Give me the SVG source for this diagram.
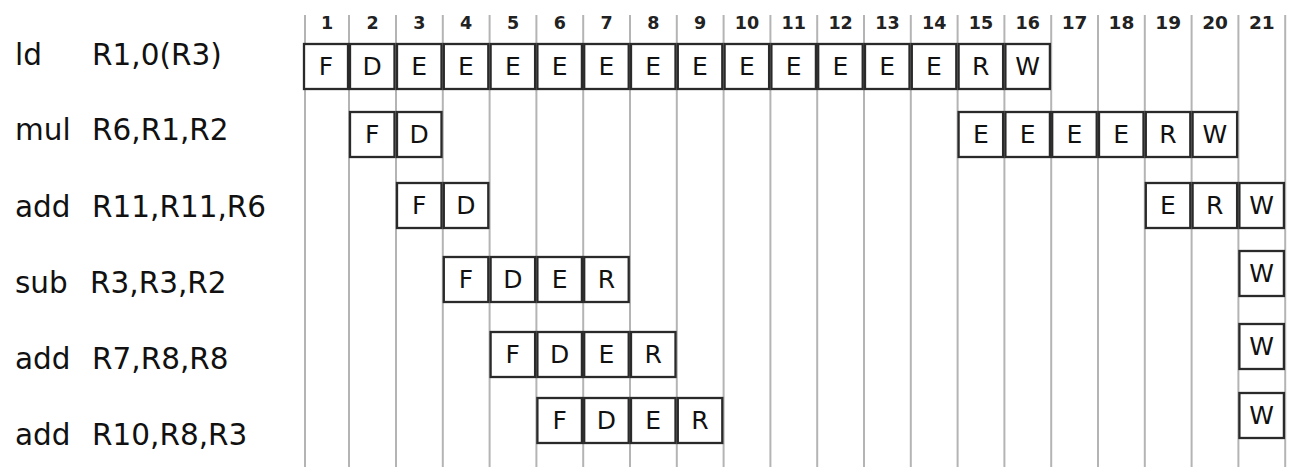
<svg xmlns="http://www.w3.org/2000/svg" width="1293" height="475" viewBox="0 0 1293 475">
<style>
.grid{stroke:#b4b4b4;stroke-width:2;fill:none}
.hdr{font-family:"DejaVu Sans",sans-serif;font-size:17.5px;font-weight:bold;fill:#222;text-anchor:middle}
.lbl{font-family:"DejaVu Sans",sans-serif;font-size:29.5px;fill:#111}
.box rect{fill:#fff;stroke:#2a2a2a;stroke-width:2.3}
.box text{font-family:"DejaVu Sans",sans-serif;font-size:25px;fill:#111;text-anchor:middle}
</style>
<rect width="1293" height="475" fill="#fff"/>
<g id="grid">
<line class="grid" x1="305" y1="15" x2="305" y2="467"/>
<line class="grid" x1="349" y1="15" x2="349" y2="467"/>
<line class="grid" x1="396" y1="15" x2="396" y2="467"/>
<line class="grid" x1="442.8" y1="15" x2="442.8" y2="467"/>
<line class="grid" x1="489.6" y1="15" x2="489.6" y2="467"/>
<line class="grid" x1="536.4" y1="15" x2="536.4" y2="467"/>
<line class="grid" x1="583.2" y1="15" x2="583.2" y2="467"/>
<line class="grid" x1="630" y1="15" x2="630" y2="467"/>
<line class="grid" x1="676.8" y1="15" x2="676.8" y2="467"/>
<line class="grid" x1="723.6" y1="15" x2="723.6" y2="467"/>
<line class="grid" x1="770.4" y1="15" x2="770.4" y2="467"/>
<line class="grid" x1="817.2" y1="15" x2="817.2" y2="467"/>
<line class="grid" x1="864" y1="15" x2="864" y2="467"/>
<line class="grid" x1="910.8" y1="15" x2="910.8" y2="467"/>
<line class="grid" x1="957.6" y1="15" x2="957.6" y2="467"/>
<line class="grid" x1="1004.4" y1="15" x2="1004.4" y2="467"/>
<line class="grid" x1="1051.2" y1="15" x2="1051.2" y2="467"/>
<line class="grid" x1="1098" y1="15" x2="1098" y2="467"/>
<line class="grid" x1="1144.8" y1="15" x2="1144.8" y2="467"/>
<line class="grid" x1="1191.6" y1="15" x2="1191.6" y2="467"/>
<line class="grid" x1="1238.4" y1="15" x2="1238.4" y2="467"/>
<line class="grid" x1="1285.2" y1="15" x2="1285.2" y2="467"/>
</g>
<g id="headers">
<text class="hdr" x="327" y="29">1</text>
<text class="hdr" x="372.5" y="29">2</text>
<text class="hdr" x="419.4" y="29">3</text>
<text class="hdr" x="466.2" y="29">4</text>
<text class="hdr" x="513" y="29">5</text>
<text class="hdr" x="559.8" y="29">6</text>
<text class="hdr" x="606.6" y="29">7</text>
<text class="hdr" x="653.4" y="29">8</text>
<text class="hdr" x="700.2" y="29">9</text>
<text class="hdr" x="747" y="29">10</text>
<text class="hdr" x="793.8" y="29">11</text>
<text class="hdr" x="840.6" y="29">12</text>
<text class="hdr" x="887.4" y="29">13</text>
<text class="hdr" x="934.2" y="29">14</text>
<text class="hdr" x="981" y="29">15</text>
<text class="hdr" x="1027.8" y="29">16</text>
<text class="hdr" x="1074.6" y="29" style="font-size:18.5px">17</text>
<text class="hdr" x="1121.4" y="29" style="font-size:18.5px">18</text>
<text class="hdr" x="1168.2" y="29" style="font-size:18.5px">19</text>
<text class="hdr" x="1215" y="29" style="font-size:18.5px">20</text>
<text class="hdr" x="1261.8" y="29" style="font-size:18.5px">21</text>
</g>
<g id="labels">
<text class="lbl" x="15" y="65">ld</text><text class="lbl" x="92" y="65">R1,0(R3)</text>
<text class="lbl" x="15" y="140">mul</text><text class="lbl" x="92" y="140">R6,R1,R2</text>
<text class="lbl" x="15" y="217">add</text><text class="lbl" x="92" y="217">R11,R11,R6</text>
<text class="lbl" x="15" y="293">sub</text><text class="lbl" x="90" y="293">R3,R3,R2</text>
<text class="lbl" x="15" y="369">add</text><text class="lbl" x="92" y="369">R7,R8,R8</text>
<text class="lbl" x="15" y="445">add</text><text class="lbl" x="92" y="445">R10,R8,R3</text>
</g>
<g id="row1-ld">
<g id="ld-c1" class="box"><rect x="304" y="44" width="44" height="45"/><text x="326" y="75">F</text></g>
<g id="ld-c2" class="box"><rect x="350" y="44" width="44.5" height="45"/><text x="372.2" y="75">D</text></g>
<g id="ld-c3" class="box"><rect x="397" y="44" width="44.5" height="45"/><text x="419.2" y="75">E</text></g>
<g id="ld-c4" class="box"><rect x="443.8" y="44" width="44.5" height="45"/><text x="466" y="75">E</text></g>
<g id="ld-c5" class="box"><rect x="490.6" y="44" width="44.5" height="45"/><text x="512.8" y="75">E</text></g>
<g id="ld-c6" class="box"><rect x="537.4" y="44" width="44.5" height="45"/><text x="559.6" y="75">E</text></g>
<g id="ld-c7" class="box"><rect x="584.2" y="44" width="44.5" height="45"/><text x="606.4" y="75">E</text></g>
<g id="ld-c8" class="box"><rect x="631" y="44" width="44.5" height="45"/><text x="653.2" y="75">E</text></g>
<g id="ld-c9" class="box"><rect x="677.8" y="44" width="44.5" height="45"/><text x="700" y="75">E</text></g>
<g id="ld-c10" class="box"><rect x="724.6" y="44" width="44.5" height="45"/><text x="746.8" y="75">E</text></g>
<g id="ld-c11" class="box"><rect x="771.4" y="44" width="44.5" height="45"/><text x="793.6" y="75">E</text></g>
<g id="ld-c12" class="box"><rect x="818.2" y="44" width="44.5" height="45"/><text x="840.4" y="75">E</text></g>
<g id="ld-c13" class="box"><rect x="865" y="44" width="44.5" height="45"/><text x="887.2" y="75">E</text></g>
<g id="ld-c14" class="box"><rect x="911.8" y="44" width="44.5" height="45"/><text x="934" y="75">E</text></g>
<g id="ld-c15" class="box"><rect x="958.6" y="44" width="44.5" height="45"/><text x="980.8" y="75">R</text></g>
<g id="ld-c16" class="box"><rect x="1005.4" y="44" width="44.5" height="45"/><text x="1027.6" y="75">W</text></g>
</g>
<g id="row2-mul">
<g id="mul-c2" class="box"><rect x="350" y="112" width="44.5" height="45"/><text x="372.2" y="143">F</text></g>
<g id="mul-c3" class="box"><rect x="397" y="112" width="44.5" height="45"/><text x="419.2" y="143">D</text></g>
<g id="mul-c15" class="box"><rect x="958.6" y="112" width="44.5" height="45"/><text x="980.8" y="143">E</text></g>
<g id="mul-c16" class="box"><rect x="1005.4" y="112" width="44.5" height="45"/><text x="1027.6" y="143">E</text></g>
<g id="mul-c17" class="box"><rect x="1052.2" y="112" width="44.5" height="45"/><text x="1074.4" y="143">E</text></g>
<g id="mul-c18" class="box"><rect x="1099" y="112" width="44.5" height="45"/><text x="1121.2" y="143">E</text></g>
<g id="mul-c19" class="box"><rect x="1145.8" y="112" width="44.5" height="45"/><text x="1168" y="143">R</text></g>
<g id="mul-c20" class="box"><rect x="1192.6" y="112" width="44.5" height="45"/><text x="1214.8" y="143">W</text></g>
</g>
<g id="row3-add">
<g id="add1-c3" class="box"><rect x="397" y="183" width="44.5" height="45"/><text x="419.2" y="214">F</text></g>
<g id="add1-c4" class="box"><rect x="443.8" y="183" width="44.5" height="45"/><text x="466" y="214">D</text></g>
<g id="add1-c19" class="box"><rect x="1145.8" y="183" width="44.5" height="45"/><text x="1168" y="214">E</text></g>
<g id="add1-c20" class="box"><rect x="1192.6" y="183" width="44.5" height="45"/><text x="1214.8" y="214">R</text></g>
<g id="add1-c21" class="box"><rect x="1239.4" y="183" width="44.5" height="45"/><text x="1261.6" y="214">W</text></g>
</g>
<g id="row4-sub">
<g id="sub-c4" class="box"><rect x="443.8" y="257" width="44.5" height="45"/><text x="466" y="288">F</text></g>
<g id="sub-c5" class="box"><rect x="490.6" y="257" width="44.5" height="45"/><text x="512.8" y="288">D</text></g>
<g id="sub-c6" class="box"><rect x="537.4" y="257" width="44.5" height="45"/><text x="559.6" y="288">E</text></g>
<g id="sub-c7" class="box"><rect x="584.2" y="257" width="44.5" height="45"/><text x="606.4" y="288">R</text></g>
<g id="sub-c21" class="box"><rect x="1239.4" y="251" width="44.5" height="45"/><text x="1261.6" y="282">W</text></g>
</g>
<g id="row5-add">
<g id="add2-c5" class="box"><rect x="490.6" y="332" width="44.5" height="45"/><text x="512.8" y="363">F</text></g>
<g id="add2-c6" class="box"><rect x="537.4" y="332" width="44.5" height="45"/><text x="559.6" y="363">D</text></g>
<g id="add2-c7" class="box"><rect x="584.2" y="332" width="44.5" height="45"/><text x="606.4" y="363">E</text></g>
<g id="add2-c8" class="box"><rect x="631" y="332" width="44.5" height="45"/><text x="653.2" y="363">R</text></g>
<g id="add2-c21" class="box"><rect x="1239.4" y="324" width="44.5" height="45"/><text x="1261.6" y="355">W</text></g>
</g>
<g id="row6-add">
<g id="add3-c6" class="box"><rect x="537.4" y="398" width="44.5" height="45"/><text x="559.6" y="429">F</text></g>
<g id="add3-c7" class="box"><rect x="584.2" y="398" width="44.5" height="45"/><text x="606.4" y="429">D</text></g>
<g id="add3-c8" class="box"><rect x="631" y="398" width="44.5" height="45"/><text x="653.2" y="429">E</text></g>
<g id="add3-c9" class="box"><rect x="677.8" y="398" width="44.5" height="45"/><text x="700" y="429">R</text></g>
<g id="add3-c21" class="box"><rect x="1239.4" y="393" width="44.5" height="45"/><text x="1261.6" y="424">W</text></g>
</g>
</svg>
